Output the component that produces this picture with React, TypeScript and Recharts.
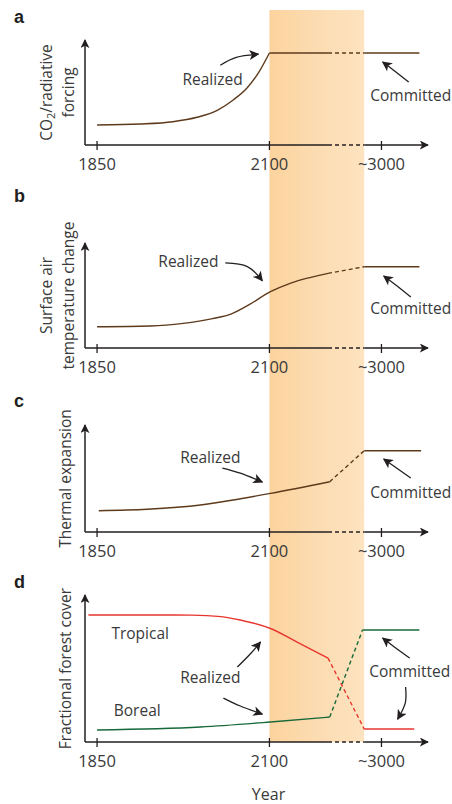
import React from 'react';
import { LineChart, Line, XAxis, YAxis, ReferenceArea, ReferenceLine } from 'recharts';

// schematic x positions: 0 = 1850, 100 = 2100, 165 = ~3000
const TICK_POS = [0, 100, 165];
const TICK_LABELS = ['1850', '2100', '~3000'];
const X_DOMAIN = [-7, 192];
const BAND = [100, 155];
const GAP = [134, 155];

// a: CO2 / radiative forcing
const CO2_RISE_X = [0, 25, 44, 58, 70, 79, 87, 93.6, 100];
const CO2_RISE_Y = [19, 20, 22.2, 26.4, 33.3, 42.9, 54.3, 68.6, 87.6];
const CO2_HOLD_X = [100, 134];
const CO2_HOLD_Y = [87.6, 87.6];
const CO2_GAP_X = [134, 155];
const CO2_GAP_Y = [87.6, 87.6];
const CO2_COMMIT_X = [155, 187];
const CO2_COMMIT_Y = [87.6, 87.6];

// b: surface air temperature change
const SAT_X = [0, 31, 50, 67, 78, 88, 100.6, 112, 124, 134];
const SAT_Y = [20.3, 21, 23.5, 28, 32.5, 41, 53.6, 61.6, 67.3, 71.1];
const SAT_GAP_X = [134, 155];
const SAT_GAP_Y = [71.1, 77.4];
const SAT_COMMIT_X = [155, 187];
const SAT_COMMIT_Y = [77.4, 77.4];

// c: thermal expansion
const TE_X = [1, 29, 60, 79, 100.6, 135];
const TE_Y = [19.9, 21.2, 25.2, 29.9, 36.1, 47];
const TE_GAP_X = [135, 155];
const TE_GAP_Y = [47, 76];
const TE_COMMIT_X = [155, 188];
const TE_COMMIT_Y = [76, 76];

// d: fractional forest cover
const TROP_X = [-5, 30, 55, 72, 83, 100.6, 118, 134];
const TROP_Y = [86.4, 86.4, 86.3, 85.3, 83, 77.2, 66.7, 57.1];
const TROP_GAP_X = [134, 155];
const TROP_GAP_Y = [57.1, 8.8];
const TROP_COMMIT_X = [155, 184];
const TROP_COMMIT_Y = [8.8, 8.8];
const BOR_X = [0, 60, 100.6, 135];
const BOR_Y = [8.2, 10.2, 13.6, 17];
const BOR_GAP_X = [135, 154];
const BOR_GAP_Y = [17, 76.2];
const BOR_COMMIT_X = [154, 187];
const BOR_COMMIT_Y = [76.2, 76.2];

const AXIS = '#231f20';
const BROWN = '#5e3a1c';
const RED = '#e8362f';
const GREEN = '#17693a';
const TEXT = '#3a3a3a';
const FONT = '"Open Sans", "Noto Sans", sans-serif';

const zip = (xs: number[], ys: number[]) => xs.map((x, i) => ({ x, y: ys[i] }));

type Series = { xs: number[]; ys: number[]; color: string; dashed?: boolean; curve?: boolean };
type Note = { x: number; y: number; text: string };
type Arrow = number[][];

const Tick = (props: any) => {
  const { x, y, payload } = props;
  const label = TICK_LABELS[TICK_POS.indexOf(payload.value)];
  return (
    <g>
      <line x1={x} x2={x} y1={y - 4} y2={y + 5} stroke={AXIS} strokeWidth={1.3} />
      <text x={x} y={y + 18} textAnchor="middle" dominantBaseline="central" fill={TEXT} fontSize={16.5} fontFamily={FONT}>
        {label}
      </text>
    </g>
  );
};

function Panel({
  top, height, marginTop, axisHeight, letter, letterY, yLabel, series, notes, arrows, bandTop, bandBottom, year,
}: {
  top: number; height: number; marginTop: number; axisHeight: number; letter: string; letterY: number;
  yLabel: React.ReactNode[]; series: Series[]; notes: Note[]; arrows: Arrow[];
  bandTop: number; bandBottom: number; year?: boolean;
}) {
  const renderYLabel = (p: any) => {
    const vb = p.viewBox;
    const cy = vb.y + vb.height / 2;
    const xs = yLabel.length === 2 ? [46, 68] : [65];
    return (
      <g>
        {yLabel.map((line, i) => (
          <text key={i} x={xs[i]} y={cy} transform={`rotate(-90 ${xs[i]} ${cy})`} textAnchor="middle"
            dominantBaseline="central" fill={TEXT} fontSize={15.5} fontFamily={FONT}>
            {line}
          </text>
        ))}
      </g>
    );
  };

  return (
    <div style={{ position: 'absolute', left: 0, top, width: 452, height }}>
      <span style={{ position: 'absolute', left: 14, top: letterY - 11, fontFamily: '"Liberation Sans", Arial, sans-serif', fontWeight: 700, fontSize: 18, color: '#231f20', zIndex: 2 }}>
        {letter}
      </span>
      <LineChart width={452} height={height} margin={{ top: marginTop, right: 24, left: 0, bottom: 0 }}>
        <ReferenceArea
          x1={BAND[0]}
          x2={BAND[1]}
          ifOverflow="visible"
          shape={(p: any) => (
            <rect x={p.x} y={bandTop} width={p.width} height={bandBottom - bandTop} fill="url(#bandGrad)" />
          )}
        />
        <XAxis
          type="number"
          dataKey="x"
          domain={X_DOMAIN}
          ticks={TICK_POS}
          interval={0}
          axisLine={false}
          tickLine={false}
          tickSize={0}
          tickMargin={0}
          height={axisHeight}
          tick={<Tick />}
          label={year ? { value: 'Year', position: 'insideBottom', offset: 4, dx: 12, fill: TEXT, fontSize: 16, fontFamily: FONT } : undefined}
        />
        <YAxis
          type="number"
          dataKey="y"
          domain={[0, 100]}
          width={85}
          axisLine={false}
          tickLine={false}
          tick={false}
          label={{ content: renderYLabel }}
        />
        <ReferenceLine segment={[{ x: X_DOMAIN[0], y: 0 }, { x: GAP[0], y: 0 }]} stroke={AXIS} strokeWidth={1.5} ifOverflow="visible" />
        <ReferenceLine segment={[{ x: GAP[0], y: 0 }, { x: GAP[1], y: 0 }]} stroke={AXIS} strokeWidth={1.5} strokeDasharray="4 3" ifOverflow="visible" />
        <ReferenceLine segment={[{ x: GAP[1], y: 0 }, { x: X_DOMAIN[1], y: 0 }]} stroke={AXIS} strokeWidth={1.5} markerEnd="url(#axisArrow)" ifOverflow="visible" />
        <ReferenceLine segment={[{ x: X_DOMAIN[0], y: 0 }, { x: X_DOMAIN[0], y: 100 }]} stroke={AXIS} strokeWidth={1.5} markerEnd="url(#axisArrow)" ifOverflow="visible" />
        {series.map((s, i) => (
          <Line
            key={'s' + i}
            data={zip(s.xs, s.ys)}
            dataKey="y"
            type={s.curve ? 'monotone' : 'linear'}
            stroke={s.color}
            strokeWidth={1.4}
            strokeDasharray={s.dashed ? '4 3' : undefined}
            dot={false}
            activeDot={false}
            isAnimationActive={false}
          />
        ))}
        {arrows.map((a, i) => (
          <Line
            key={'a' + i}
            data={a.map(([x, y]) => ({ x, y }))}
            dataKey="y"
            type="natural"
            stroke={AXIS}
            strokeWidth={1.3}
            dot={false}
            activeDot={false}
            markerEnd="url(#noteArrow)"
            isAnimationActive={false}
          />
        ))}
        {notes.map((n, i) => (
          <Line
            key={'n' + i}
            data={[{ x: n.x, y: n.y }]}
            dataKey="y"
            stroke="none"
            isAnimationActive={false}
            activeDot={false}
            dot={(p: any) => (
              <text key={'t' + i} x={p.cx} y={p.cy} textAnchor="middle" dominantBaseline="central" fill={TEXT} fontSize={15.5} fontFamily={FONT}>
                {n.text}
              </text>
            )}
          />
        ))}
      </LineChart>
    </div>
  );
}

export default function App() {
  return (
    <div style={{ position: 'absolute', left: 0, top: 0, width: 452, height: 804, background: '#fff' }}>
      <svg width={0} height={0} style={{ position: 'absolute' }}>
        <defs>
          <linearGradient id="bandGrad" x1="0" y1="0" x2="1" y2="0">
            <stop offset="0" stopColor="#fcd39d" />
            <stop offset="0.45" stopColor="#fcdbb0" />
            <stop offset="1" stopColor="#fde3c0" />
          </linearGradient>
          <marker id="axisArrow" viewBox="0 0 10 10" refX="9" refY="5" markerWidth="9" markerHeight="9" markerUnits="userSpaceOnUse" orient="auto">
            <path d="M0,0 L10,5 L0,10 L2.5,5 z" fill={AXIS} />
          </marker>
          <marker id="noteArrow" viewBox="0 0 10 10" refX="9" refY="5" markerWidth="10" markerHeight="10" markerUnits="userSpaceOnUse" orient="auto">
            <path d="M0,0 L10,5 L0,10 L2.5,5 z" fill={AXIS} />
          </marker>
        </defs>
      </svg>
      <Panel
        top={0} height={185} marginTop={40} axisHeight={40} letter="a" letterY={18}
        bandTop={10} bandBottom={185}
        yLabel={[<tspan key="c">CO<tspan fontSize={11} dy={4}>2</tspan><tspan dy={-4}>/radiative</tspan></tspan>, 'forcing']}
        series={[
          { xs: CO2_RISE_X, ys: CO2_RISE_Y, color: BROWN, curve: true },
          { xs: CO2_HOLD_X, ys: CO2_HOLD_Y, color: BROWN },
          { xs: CO2_GAP_X, ys: CO2_GAP_Y, color: BROWN, dashed: true },
          { xs: CO2_COMMIT_X, ys: CO2_COMMIT_Y, color: BROWN },
        ]}
        notes={[{ x: 67, y: 62.9, text: 'Realized' }, { x: 182, y: 47.6, text: 'Committed' }]}
        arrows={[
          [[71.5, 76], [80.8, 83.5], [93.6, 86.5]],
          [[180.8, 60], [171.5, 72], [165.7, 79]],
        ]}
      />
      <Panel
        top={185} height={195} marginTop={58} axisHeight={32} letter="b" letterY={12}
        bandTop={0} bandBottom={195}
        yLabel={['Surface air', 'temperature change']}
        series={[
          { xs: SAT_X, ys: SAT_Y, color: BROWN, curve: true },
          { xs: SAT_GAP_X, ys: SAT_GAP_Y, color: BROWN, dashed: true },
          { xs: SAT_COMMIT_X, ys: SAT_COMMIT_Y, color: BROWN },
        ]}
        notes={[{ x: 53, y: 82.9, text: 'Realized' }, { x: 182, y: 38.1, text: 'Committed' }]}
        arrows={[
          [[74.4, 81], [87.2, 77.5], [95.9, 64]],
          [[182, 48.6], [173.3, 60], [166.3, 68.6]],
        ]}
      />
      <Panel
        top={380} height={185} marginTop={45} axisHeight={33} letter="c" letterY={22}
        bandTop={0} bandBottom={185}
        yLabel={['Thermal expansion']}
        series={[
          { xs: TE_X, ys: TE_Y, color: BROWN, curve: true },
          { xs: TE_GAP_X, ys: TE_GAP_Y, color: BROWN, dashed: true },
          { xs: TE_COMMIT_X, ys: TE_COMMIT_Y, color: BROWN },
        ]}
        notes={[{ x: 65.7, y: 70.1, text: 'Realized' }, { x: 182, y: 37.4, text: 'Committed' }]}
        arrows={[
          [[72.7, 59.8], [83.1, 55], [95.9, 46.7]],
          [[182, 50.5], [172.7, 61], [166.3, 68.2]],
        ]}
      />
      <Panel
        top={565} height={239} marginTop={30} axisHeight={62} letter="d" letterY={18}
        bandTop={0} bandBottom={177} year
        yLabel={['Fractional forest cover']}
        series={[
          { xs: TROP_X, ys: TROP_Y, color: RED, curve: true },
          { xs: TROP_GAP_X, ys: TROP_GAP_Y, color: RED, dashed: true },
          { xs: TROP_COMMIT_X, ys: TROP_COMMIT_Y, color: RED },
          { xs: BOR_X, ys: BOR_Y, color: GREEN, curve: true },
          { xs: BOR_GAP_X, ys: BOR_GAP_Y, color: GREEN, dashed: true },
          { xs: BOR_COMMIT_X, ys: BOR_COMMIT_Y, color: GREEN },
        ]}
        notes={[
          { x: 25, y: 74.1, text: 'Tropical' },
          { x: 23.3, y: 21.8, text: 'Boreal' },
          { x: 65.7, y: 44.2, text: 'Realized' },
          { x: 181.4, y: 48.3, text: 'Committed' },
        ]}
        arrows={[
          [[81.4, 51], [89, 60], [94.8, 68]],
          [[73.3, 29.9], [83.1, 24.5], [95.9, 19]],
          [[181.4, 57.1], [172.1, 65], [165.7, 70.7]],
          [[179, 37.4], [178.8, 26.5], [174.4, 15.6]],
        ]}
      />
    </div>
  );
}
